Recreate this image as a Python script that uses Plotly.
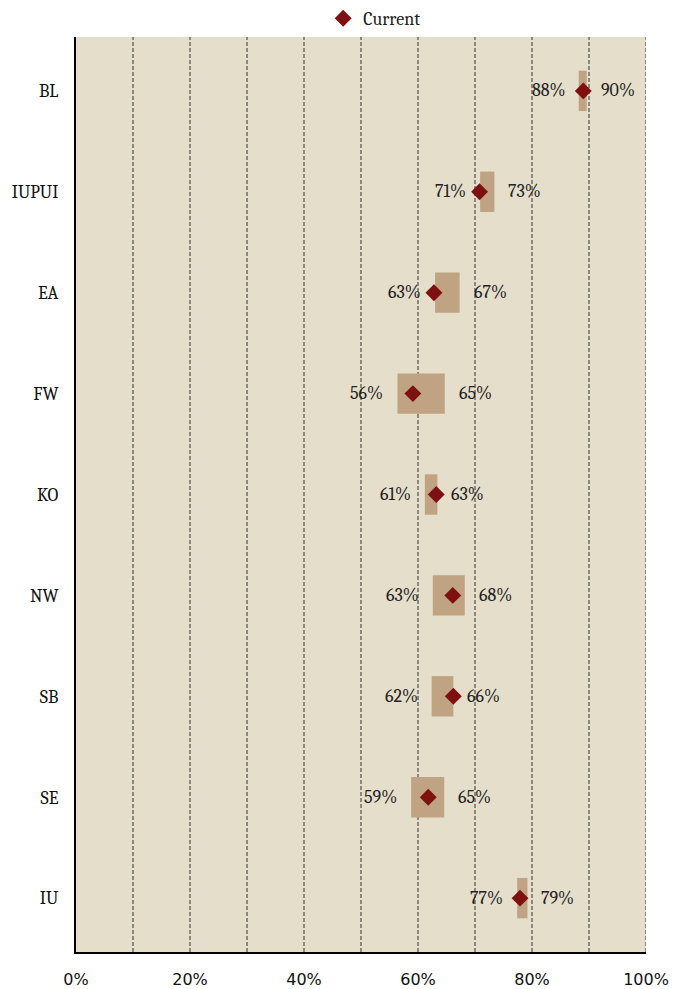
import plotly.graph_objects as go

campuses = ["BL", "IUPUI", "EA", "FW", "KO", "NW", "SB", "SE", "IU"]
range_low = [88.2, 70.9, 63.0, 56.4, 61.2, 62.6, 62.4, 58.8, 77.4]
range_high = [89.6, 73.4, 67.3, 64.7, 63.4, 68.2, 66.2, 64.6, 79.2]
current = [89.0, 70.8, 62.8, 59.1, 63.2, 66.1, 66.2, 61.8, 77.9]
x_ticks = [0, 20, 40, 60, 80, 100]
x_tick_labels = ["0%", "20%", "40%", "60%", "80%", "100%"]

SERIF = "Cambria, 'Liberation Serif', 'DejaVu Serif', serif"
SANS = "Verdana, 'DejaVu Sans', sans-serif"

fig = go.Figure()

fig.add_trace(go.Bar(
    y=campuses,
    x=[h - l for l, h in zip(range_low, range_high)],
    base=range_low,
    orientation="h",
    width=0.4,
    marker=dict(color="#BFA382", line=dict(width=0)),
    showlegend=False,
    hoverinfo="skip",
))

fig.add_trace(go.Scatter(
    y=campuses,
    x=current,
    mode="markers",
    name="Current",
    marker=dict(symbol="diamond", size=13, color="#7E1010"),
))

annotations = []
for c, l, h in zip(campuses, range_low, range_high):
    annotations.append(dict(
        x=l, y=c, xref="x", yref="y", text=f"{l:.0f}%", showarrow=False,
        xanchor="right", xshift=-12, font=dict(family=SERIF, size=18, color="#222222"),
    ))
    annotations.append(dict(
        x=h, y=c, xref="x", yref="y", text=f"{h:.0f}%", showarrow=False,
        xanchor="left", xshift=12, font=dict(family=SERIF, size=18, color="#222222"),
    ))

fig.update_layout(
    width=684, height=989,
    margin=dict(l=68, r=46, t=29, b=45, autoexpand=False),
    paper_bgcolor="white",
    plot_bgcolor="#E5DECB",
    annotations=annotations,
    showlegend=True,
    legend=dict(
        orientation="h", x=0.524, y=1.0, xanchor="center", yanchor="bottom",
        font=dict(family=SERIF, size=18, color="#222222"),
        bgcolor="rgba(0,0,0,0)", itemwidth=30,
    ),
    xaxis=dict(
        range=[0, 100], tickvals=x_ticks, ticktext=x_tick_labels,
        showgrid=False, zeroline=False, automargin=False,
        showline=True, linecolor="black", linewidth=2,
        ticks="outside", ticklen=12, tickcolor="rgba(0,0,0,0)",
        tickfont=dict(family=SANS, size=16, color="#111111"),
    ),
    yaxis=dict(
        categoryorder="array", categoryarray=campuses, autorange="reversed",
        showgrid=False, zeroline=False, automargin=False,
        showline=True, linecolor="black", linewidth=2,
        ticks="outside", ticklen=12, tickcolor="rgba(0,0,0,0)",
        tickfont=dict(family=SERIF, size=18, color="#111111"),
    ),
)

for g in range(10, 101, 10):
    fig.add_shape(type="line", x0=g, x1=g, y0=0, y1=1, xref="x", yref="paper",
                  line=dict(color="#333333", width=1, dash="4px,2px"), layer="below")

fig.write_html("out.html")
